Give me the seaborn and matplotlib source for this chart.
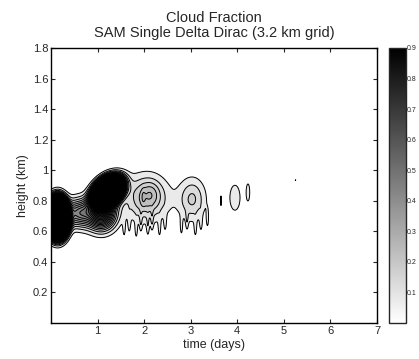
import numpy as np
import matplotlib
matplotlib.use("Agg")
import matplotlib.pyplot as plt
import seaborn as sns
from matplotlib.colors import Normalize
from matplotlib.cm import ScalarMappable

sns.set_style("white")
plt.rcParams['font.family'] = ['Liberation Sans', 'DejaVu Sans']

# ---- data: cloud blobs (time [days], height [km]) ----
blob_t     = [0.14, 0.60, 1.22, 1.08, 2.05, 2.15, 1.98, 3.03, 3.65, 3.95, 4.23, 5.25]
blob_z     = [0.69, 0.72, 0.86, 0.72, 0.82, 0.85, 0.82, 0.81, 0.80, 0.82, 0.855, 0.935]
blob_st    = [0.11, 0.20, 0.19, 0.20, 0.31, 0.12, 0.03, 0.20, 0.01, 0.10, 0.04, 0.01]
blob_sz    = [0.06, 0.06, 0.04, 0.07, 0.10, 0.05, 0.04, 0.095, 0.04, 0.075, 0.06, 0.006]
blob_peak  = [12.0, 0.40, 6.0, 0.7, 0.22, 0.05, 0.04, 0.16, 0.065, 0.09, 0.075, 0.06]
blob_angle = [0, 0, 45, 0, 0, 0, 0, 0, 0, 0, 0, 0]

drip_t = [1.57, 1.68, 1.83, 1.93, 2.08, 2.17, 2.33, 2.45, 2.80, 2.92, 3.10, 3.22, 3.36]
drip_z = [0.62, 0.65, 0.61, 0.66, 0.63, 0.67, 0.62, 0.66, 0.63, 0.67, 0.62, 0.66, 0.68]
drip_peak = [0.06] * 13

levels = [0.05, 0.10, 0.15, 0.20, 0.25, 0.30, 0.35, 0.40, 0.45, 0.50,
          0.55, 0.60, 0.65, 0.70, 0.75, 0.80, 0.85, 0.90]
cbar_ticks = [0.1, 0.2, 0.3, 0.4, 0.5, 0.6, 0.7, 0.8, 0.9]
x_ticks = [1, 2, 3, 4, 5, 6, 7]
y_ticks = [0.2, 0.4, 0.6, 0.8, 1.0, 1.2, 1.4, 1.6, 1.8]
y_ticklabels = ["0.2", "0.4", "0.6", "0.8", "1", "1.2", "1.4", "1.6", "1.8"]

# ---- build field on grid ----
t = np.linspace(0, 7, 701)
z = np.linspace(0, 1.8, 361)
T, Z = np.meshgrid(t, z)
sx, sy = 46.6, 153.0  # roughly isotropic (pixel-like) space for rotations
F = np.zeros_like(T)
for bt, bz, st, sz, pk, ang in zip(blob_t, blob_z, blob_st, blob_sz, blob_peak, blob_angle):
    u = (T - bt) * sx
    v = (Z - bz) * sy
    a = np.deg2rad(ang)
    ur = u * np.cos(a) + v * np.sin(a)
    vr = -u * np.sin(a) + v * np.cos(a)
    F += pk * np.exp(-0.5 * ((ur / (st * sx)) ** 2 + (vr / (sz * sy)) ** 2))
for dt, dz, pk in zip(drip_t, drip_z, drip_peak):
    F += pk * np.exp(-0.5 * (((T - dt) / 0.022) ** 2 + ((Z - dz) / 0.05) ** 2))

# ---- figure ----
fig = plt.figure(figsize=(4.19, 3.59), dpi=100)
ax = fig.add_axes([0.1217, 0.1003, 0.7781, 0.766])
cax = fig.add_axes([0.928, 0.1003, 0.0406, 0.766])

norm = Normalize(0, 0.9)
fill_levels = levels + [1e3]
ax.contourf(T, Z, F, levels=fill_levels, cmap="gray_r", norm=norm)
ax.contour(T, Z, F, levels=levels, colors="black", linewidths=0.7)

ax.set_xlim(0, 7)
ax.set_ylim(0, 1.8)
ax.set_xticks(x_ticks)
ax.set_xticklabels([str(v) for v in x_ticks])
ax.set_yticks(y_ticks)
ax.set_yticklabels(y_ticklabels)
ax.tick_params(direction="in", length=3, width=0.8, labelsize=8,
               top=True, right=True, bottom=True, left=True, pad=2)
for s in ax.spines.values():
    s.set_linewidth(1.0)
    s.set_color("black")
ax.set_xlabel("time (days)", fontsize=9, labelpad=2)
ax.set_ylabel("height (km)", fontsize=9, labelpad=3)
ax.set_title("Cloud Fraction\nSAM Single Delta Dirac (3.2 km grid)", fontsize=10.5,
             linespacing=1.1, pad=8)

sm = ScalarMappable(norm=norm, cmap="gray_r")
cb = fig.colorbar(sm, cax=cax)
cb.set_ticks(cbar_ticks)
cb.set_ticklabels([f"{v:g}" for v in cbar_ticks])
cax.tick_params(direction="in", length=2, width=0.6, labelsize=5, left=True, right=True, pad=1)
cb.outline.set_linewidth(1.0)

fig.savefig("out.png", dpi=100)
